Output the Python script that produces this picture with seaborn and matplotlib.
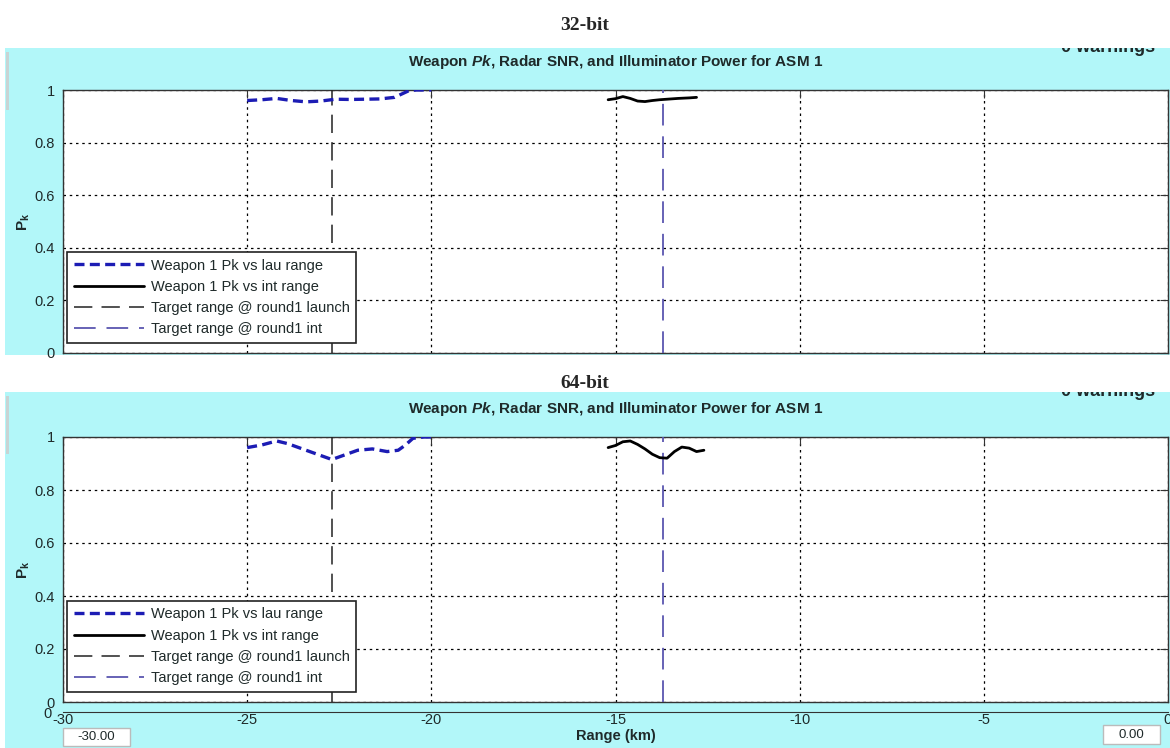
import matplotlib
matplotlib.use("Agg")
import matplotlib.pyplot as plt
import seaborn as sns
import pandas as pd
from matplotlib.patches import Rectangle

# ---- data ----
panel_titles = ["32-bit", "64-bit"]

lau_x_32 = [-25.0, -24.6, -24.2, -23.8, -23.4, -23.0, -22.6, -22.2, -21.8, -21.4, -21.0, -20.8, -20.6, -20.4, -20.0]
lau_y_32 = [0.960, 0.963, 0.968, 0.960, 0.955, 0.958, 0.965, 0.964, 0.965, 0.966, 0.972, 0.985, 0.998, 1.0, 1.0]
int_x_32 = [-15.2, -15.0, -14.8, -14.6, -14.4, -14.2, -14.0, -13.8, -13.6, -13.3, -13.0, -12.8]
int_y_32 = [0.963, 0.967, 0.975, 0.968, 0.958, 0.956, 0.960, 0.963, 0.965, 0.968, 0.970, 0.972]

lau_x_64 = [-25.0, -24.6, -24.2, -23.9, -23.5, -23.1, -22.7, -22.4, -22.0, -21.6, -21.2, -20.9, -20.7, -20.5, -20.2, -20.0]
lau_y_64 = [0.960, 0.970, 0.985, 0.975, 0.955, 0.935, 0.915, 0.930, 0.950, 0.955, 0.945, 0.950, 0.970, 0.995, 1.0, 1.0]
int_x_64 = [-15.2, -15.0, -14.8, -14.6, -14.4, -14.2, -14.0, -13.8, -13.6, -13.4, -13.2, -13.0, -12.8, -12.6]
int_y_64 = [0.960, 0.968, 0.982, 0.985, 0.972, 0.955, 0.935, 0.922, 0.920, 0.945, 0.962, 0.958, 0.945, 0.950]

target_launch = -22.7
target_int = -13.7

legend_labels = ["Weapon 1 Pk vs lau range", "Weapon 1 Pk vs int range",
                 "Target range @ round1 launch", "Target range @ round1 int"]
x_ticks = [-30, -25, -20, -15, -10, -5, 0]
y_ticks = [0, 0.2, 0.4, 0.6, 0.8, 1]
y_ticklabels = ["0", "0.2", "0.4", "0.6", "0.8", "1"]

sns.set_style("white")
plt.rcParams["font.family"] = ["Liberation Sans", "DejaVu Sans"]
plt.rcParams["mathtext.fontset"] = "custom"
plt.rcParams["mathtext.it"] = "Liberation Sans:italic:bold"
plt.rcParams["mathtext.bf"] = "Liberation Sans:bold"
plt.rcParams["mathtext.rm"] = "Liberation Sans"

W, H = 1170, 748
fig = plt.figure(figsize=(W / 100, H / 100), dpi=100)
fig.patch.set_facecolor("white")

CYAN = "#b2f7f9"
BLUE = "#1c1cb4"
PURPLE = "#5a56b0"
TXT = "#1f2a2a"


def px_axes(left, top, right, bottom):
    a = fig.add_axes([left / W, 1 - bottom / H, (right - left) / W, (bottom - top) / H])
    a.set_zorder(10)
    return a


def fig_rect(left, top, right, bottom, **kw):
    fig.patches.append(Rectangle((left / W, 1 - bottom / H), (right - left) / W, (bottom - top) / H,
                                 transform=fig.transFigure, figure=fig, **kw))


panels = [
    dict(title=panel_titles[0], ty=25, bg=(5, 48, 1170, 355), ax=(63, 90, 1168, 353),
         lau=(lau_x_32, lau_y_32), inn=(int_x_32, int_y_32)),
    dict(title=panel_titles[1], ty=383, bg=(5, 392, 1170, 748), ax=(63, 437, 1168, 702),
         lau=(lau_x_64, lau_y_64), inn=(int_x_64, int_y_64)),
]

for p in panels:
    fig_rect(*p["bg"], facecolor=CYAN, edgecolor="none", zorder=-5)
    top = p["bg"][1]
    # faint window-frame bracket on the left edge
    fig_rect(6, top + 4, 9, top + 62, facecolor="#c8d4d4", edgecolor="none", zorder=-4)
    # "0 warnings" text partly hidden by the crop
    fig.text(1108 / W, 1 - (top - 1) / H, "0 warnings", ha="center", va="center",
             fontsize=13, fontweight="bold", color=TXT, zorder=1)
    fig_rect(990, top - 20, 1170, top, facecolor="white", edgecolor="none", zorder=2)
    fig.text(0.5, 1 - p["ty"] / H, p["title"], ha="center", va="center", fontsize=14,
             fontweight="bold", family=["Liberation Serif", "DejaVu Serif"], zorder=3)

    ax = px_axes(*p["ax"])
    ax.set_facecolor("white")

    df_lau = pd.DataFrame({"x": p["lau"][0], "y": p["lau"][1]})
    df_int = pd.DataFrame({"x": p["inn"][0], "y": p["inn"][1]})
    sns.lineplot(data=df_lau, x="x", y="y", ax=ax, color=BLUE, lw=2.4,
                 linestyle=(0, (3, 1.6)), label=legend_labels[0], zorder=4)
    sns.lineplot(data=df_int, x="x", y="y", ax=ax, color="black", lw=2.0,
                 label=legend_labels[1], zorder=4)
    ax.axvline(target_launch, color="#222222", lw=1.1, linestyle=(0, (12, 6)),
               label=legend_labels[2], zorder=3)
    ax.axvline(target_int, color=PURPLE, lw=1.3, linestyle=(0, (12, 6)),
               label=legend_labels[3], zorder=3)

    ax.set_xlim(-30, 0)
    ax.set_ylim(0, 1)
    ax.set_xticks(x_ticks)
    ax.set_xticklabels([])
    ax.set_yticks(y_ticks)
    ax.set_yticklabels(y_ticklabels, fontsize=10.5, color=TXT)
    ax.grid(True, color="black", linestyle=(0, (2, 3)), lw=0.9)
    ax.tick_params(direction="in", length=6, top=True, right=True, colors="#333333",
                   labelcolor=TXT, pad=6)
    for s in ax.spines.values():
        s.set_color("#333333")
        s.set_linewidth(1.0)
    ax.set_xlabel("")
    ax.set_ylabel(r"$\mathbf{P_k}$", fontsize=11, color=TXT, labelpad=2)
    ax.set_title(r"Weapon $\it{Pk}$, Radar SNR, and Illuminator Power for ASM 1",
                 fontsize=11, fontweight="bold", color=TXT, pad=17)

    leg = ax.legend(loc="lower left", bbox_to_anchor=(0.004, 0.038), borderaxespad=0,
                    fontsize=10.5, handlelength=4.8, handletextpad=0.45, labelspacing=0.5,
                    borderpad=0.45, fancybox=False, framealpha=1, edgecolor="#222222")
    leg.get_frame().set_linewidth(1.2)
    for t in leg.get_texts():
        t.set_color(TXT)

# secondary range axis below the 64-bit panel
axr = px_axes(63, 709, 1168, 712)
axr.set_facecolor("none")
axr.set_xlim(-30, 0)
axr.set_ylim(0, 1)
axr.set_xticks(x_ticks)
axr.set_xticklabels([str(v) for v in x_ticks], fontsize=10.5, color=TXT)
axr.set_yticks([0])
axr.set_yticklabels(["0"], fontsize=10.5, color=TXT)
for k in ["top", "right", "left"]:
    axr.spines[k].set_visible(False)
axr.spines["bottom"].set_color("#333333")
axr.tick_params(axis="x", direction="in", length=6, colors="#333333", labelcolor=TXT, pad=1)
axr.tick_params(axis="y", length=0, pad=8)
axr.set_xlabel("Range (km)", fontsize=10.5, fontweight="bold", color=TXT, labelpad=1)

# value boxes
for (l, t, r, b, s) in [(63, 728, 130, 746, "-30.00"), (1103, 725, 1160, 744, "0.00")]:
    fig_rect(l, t, r, b, facecolor="white", edgecolor="#bbbbbb", lw=1, zorder=20)
    fig.text((l + r) / 2 / W, 1 - (t + b) / 2 / H, s, ha="center", va="center",
             fontsize=9.5, color=TXT, zorder=21)

fig.savefig("out.png", dpi=100)
